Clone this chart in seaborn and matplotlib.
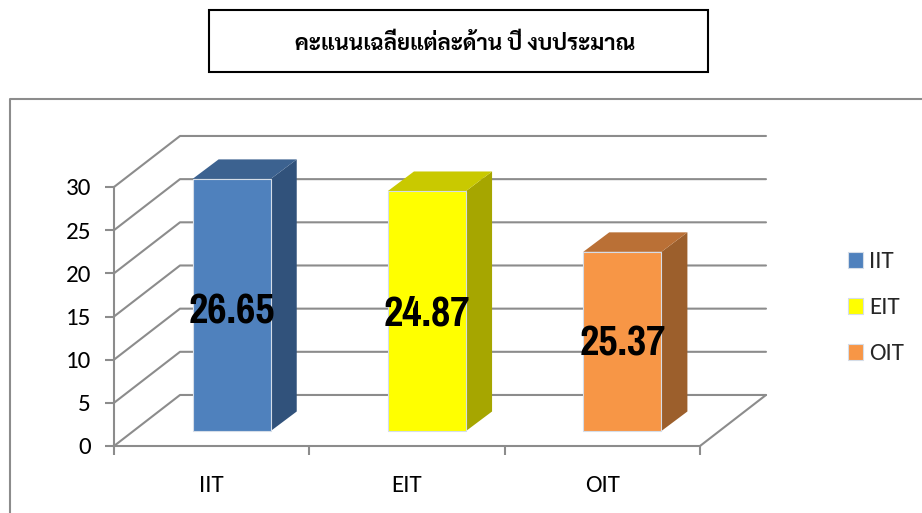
import matplotlib
matplotlib.use("Agg")
from matplotlib import pyplot as plt
from matplotlib.lines import Line2D
from matplotlib.patches import Rectangle
import seaborn as sns

categories = ["IIT", "EIT", "OIT"]
# drawn heights do not match the printed labels in the original chart
bar_heights = [29.2, 27.8, 20.75]
label_values = ["26.65", "24.87", "25.37"]
y_ticks = [0, 5, 10, 15, 20, 25, 30]
title = "คะแนนเฉลี่ยแต่ละด้าน ปี งบประมาณ"

front_colors = ["#4F81BD", "#FFFF00", "#F79646"]
side_colors = ["#31527B", "#A6A600", "#9C5F2C"]
top_colors = ["#3C6290", "#C9C900", "#BA7036"]
line_color = "#8C8C8C"

W, H = 922, 513

sns.set_theme(style="white")
plt.rcParams["font.family"] = ["Carlito", "Lato", "DejaVu Sans"]

fig = plt.figure(figsize=(W / 100, H / 100), dpi=100)
ax = fig.add_axes([114 / W, (H - 446) / H, 586 / W, 259 / H])

sns.barplot(x=categories, y=bar_heights, hue=categories, palette=front_colors,
            width=0.4, dodge=False, legend=True, ax=ax, saturation=1,
            edgecolor="#D5DDE8", linewidth=0.8, zorder=3)
ax.set_xlim(-0.5, 2.5)
ax.set_ylim(0, 30)

# pseudo 3D depth, in data units
wall_dx, wall_dy = 66 / 195.33, 51 / 8.63
bar_dx, bar_dy = 26 / 195.33, 19.5 / 8.63
lift = 15 / 8.63
shift = 20 / 195.33

# walls and floor
for k in y_ticks:
    ax.plot([-0.5, -0.5 + wall_dx, 2.5 + wall_dx], [k, k + wall_dy, k + wall_dy],
            color=line_color, lw=1.5, clip_on=False, zorder=1)
ax.plot([2.5, 2.5 + wall_dx], [0, wall_dy], color=line_color, lw=1.5, clip_on=False, zorder=1)

# move the bars onto the middle of the floor and add their faces
for i, container in enumerate(ax.containers):
    bar = container[0]
    bar.set_x(bar.get_x() + shift)
    bar.set_y(lift)
    bar.set_clip_on(False)
    x0, x1 = bar.get_x(), bar.get_x() + bar.get_width()
    y0, y1 = bar.get_y(), bar.get_y() + bar.get_height()
    ax.fill([x1, x1 + bar_dx, x1 + bar_dx, x1], [y0, y0 + bar_dy, y1 + bar_dy, y1],
            color=side_colors[i], lw=0, clip_on=False, zorder=2)
    ax.fill([x0, x0 + bar_dx, x1 + bar_dx, x1], [y1, y1 + bar_dy, y1 + bar_dy, y1],
            color=top_colors[i], lw=0, clip_on=False, zorder=2)
    texts = ax.bar_label(container, labels=[label_values[i]], label_type="center", fontsize=33,
                         fontweight="bold", color="black", zorder=5,
                         family=["Pragati Narrow", "Liberation Sans"])
    texts[0].xyann = (0, -1.5)

# axes
sns.despine(ax=ax)
for side in ["left", "bottom"]:
    ax.spines[side].set_color(line_color)
    ax.spines[side].set_linewidth(1.5)
ax.set_yticks(y_ticks)
ax.tick_params(axis="y", length=6.5, width=1.5, color=line_color, labelsize=18,
               pad=10, labelcolor="black", left=True)
ax.set_xticks(range(len(categories)), categories)
ax.set_xticks([-0.5, 0.5, 1.5, 2.5], minor=True)
ax.tick_params(axis="x", which="major", length=0, labelsize=18, pad=21, labelcolor="black")
ax.tick_params(axis="x", which="minor", length=6.5, width=1.5, color=line_color, bottom=True)

# legend
handles, labels = ax.get_legend_handles_labels()
ax.legend(handles, labels, loc="center left", bbox_to_anchor=(848 / W, 1 - 308 / H),
          bbox_transform=fig.transFigure, frameon=False, fontsize=18, borderpad=0,
          borderaxespad=0, handlelength=0.6, handleheight=0.6, handletextpad=0.25,
          labelspacing=1.0, title=None)

# outer chart frame, open on the right and at the bottom
fig.add_artist(Line2D([10 / W, 10 / W, 1], [0, 1 - 99 / H, 1 - 99 / H],
                      color=line_color, lw=1.5, transform=fig.transFigure))

# title box
fig.add_artist(Rectangle((208.5 / W, 1 - 71.5 / H), 499 / W, 62 / H, facecolor="white",
                         edgecolor="black", lw=1.5, transform=fig.transFigure))
fig.text(465 / W, 1 - 44 / H, title, ha="center", va="center", fontsize=16, fontweight="bold",
         color="black", family=["Sarabun", "Noto Sans Thai", "DejaVu Sans"])

fig.savefig("out.png", dpi=100)
